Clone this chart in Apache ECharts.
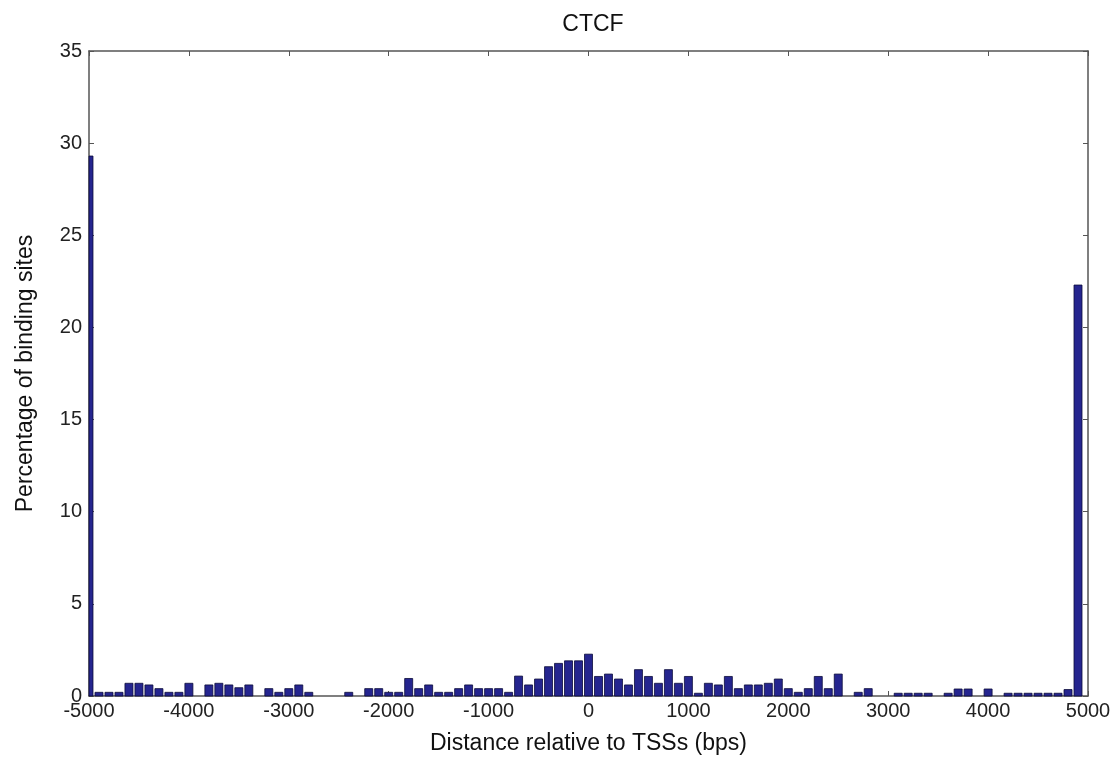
<!DOCTYPE html>
<html>
<head>
<meta charset="utf-8">
<script src="https://cdn.jsdelivr.net/npm/echarts@6/dist/echarts.min.js"></script>
<style>
  html, body { margin: 0; padding: 0; background: #fff; }
  #chart { width: 1115px; height: 760px; }
</style>
</head>
<body>
<div id="chart"></div>
<script>
// bin centres (bps), one bar every 100 bps
const binStart = -5000;
const binStep = 100;

// percentage of binding sites per bin, -5000 .. 5000
const percentages = [
  29.3, 0.2, 0.2, 0.2, 0.69, 0.69, 0.6, 0.4, 0.2, 0.2,
  0.69, 0, 0.6, 0.69, 0.6, 0.45, 0.6, 0, 0.4, 0.2,
  0.4, 0.6, 0.2, 0, 0, 0, 0.2, 0, 0.4, 0.4,
  0.2, 0.2, 0.95, 0.4, 0.6, 0.2, 0.2, 0.4, 0.6, 0.4,
  0.4, 0.4, 0.2, 1.08, 0.6, 0.92, 1.59, 1.77, 1.91, 1.91,
  2.27, 1.06, 1.19, 0.92, 0.6, 1.43, 1.06, 0.69, 1.43, 0.69,
  1.06, 0.15, 0.69, 0.6, 1.06, 0.4, 0.6, 0.6, 0.69, 0.92,
  0.4, 0.2, 0.4, 1.06, 0.4, 1.19, 0, 0.2, 0.4, 0,
  0, 0.15, 0.15, 0.15, 0.15, 0, 0.15, 0.38, 0.38, 0,
  0.38, 0, 0.15, 0.15, 0.15, 0.15, 0.15, 0.15, 0.35, 22.3,
  0
];

const xTicks = [-5000, -4000, -3000, -2000, -1000, 0, 1000, 2000, 3000, 4000, 5000];
const yTicks = [0, 5, 10, 15, 20, 25, 30, 35];

const barData = percentages.map((v, i) => [binStart + i * binStep, v]);

const axisColor = '#555';
const tickFont = { fontFamily: 'Liberation Sans', fontSize: 20, color: '#222' };
const halfBar = 40; // bar is 80% of the bin

// histogram bars, clipped to the plot box like matlab does
function renderBar(params, api) {
  const x = api.value(0);
  const v = api.value(1);
  if (!v) return null;
  const p0 = api.coord([x - halfBar, 0]);
  const p1 = api.coord([x + halfBar, v]);
  const shape = echarts.graphic.clipRectByRect(
    { x: p0[0], y: p1[1], width: p1[0] - p0[0], height: p0[1] - p1[1] },
    { x: params.coordSys.x, y: params.coordSys.y, width: params.coordSys.width, height: params.coordSys.height }
  );
  return shape && {
    type: 'rect',
    shape: shape,
    style: { fill: '#25258f', stroke: '#0b0b3a', lineWidth: 0.8 }
  };
}

const chart = echarts.init(document.getElementById('chart'));
chart.setOption({
  animation: false,
  title: {
    text: 'CTCF',
    left: 588,
    textAlign: 'center',
    top: 8,
    textStyle: { fontFamily: 'Liberation Sans', fontSize: 23, fontWeight: 'normal', color: '#111' }
  },
  grid: { left: 89, right: 27, top: 51, bottom: 63 },
  xAxis: [
    {
      type: 'value',
      min: xTicks[0],
      max: xTicks[xTicks.length - 1],
      interval: 1000,
      name: 'Distance relative to TSSs (bps)',
      nameLocation: 'middle',
      nameGap: 36,
      nameTextStyle: { fontFamily: 'Liberation Sans', fontSize: 23, color: '#111' },
      axisLine: { onZero: false, lineStyle: { color: axisColor, width: 1.5 } },
      axisTick: { inside: true, length: 5, lineStyle: { color: axisColor } },
      axisLabel: Object.assign({ margin: 5, formatter: v => String(v) }, tickFont),
      splitLine: { show: false }
    },
    {
      type: 'value',
      position: 'top',
      min: xTicks[0],
      max: xTicks[xTicks.length - 1],
      interval: 1000,
      axisLine: { onZero: false, lineStyle: { color: axisColor, width: 1.5 } },
      axisTick: { inside: true, length: 5, lineStyle: { color: axisColor } },
      axisLabel: { show: false },
      splitLine: { show: false }
    }
  ],
  yAxis: [
    {
      type: 'value',
      min: yTicks[0],
      max: yTicks[yTicks.length - 1],
      interval: 5,
      name: 'Percentage of binding sites',
      nameLocation: 'middle',
      nameGap: 52,
      nameTextStyle: { fontFamily: 'Liberation Sans', fontSize: 23, color: '#111' },
      axisLine: { show: true, onZero: false, lineStyle: { color: axisColor, width: 1.5 } },
      axisTick: { show: true, inside: true, length: 5, lineStyle: { color: axisColor } },
      axisLabel: Object.assign({ margin: 7 }, tickFont),
      splitLine: { show: false }
    },
    {
      type: 'value',
      position: 'right',
      min: yTicks[0],
      max: yTicks[yTicks.length - 1],
      interval: 5,
      axisLine: { show: true, onZero: false, lineStyle: { color: axisColor, width: 1.5 } },
      axisTick: { show: true, inside: true, length: 5, lineStyle: { color: axisColor } },
      axisLabel: { show: false },
      splitLine: { show: false }
    }
  ],
  series: [
    {
      type: 'custom',
      renderItem: renderBar,
      data: barData,
      encode: { x: 0, y: 1 },
      z: 1
    }
  ]
});
</script>
</body>
</html>
